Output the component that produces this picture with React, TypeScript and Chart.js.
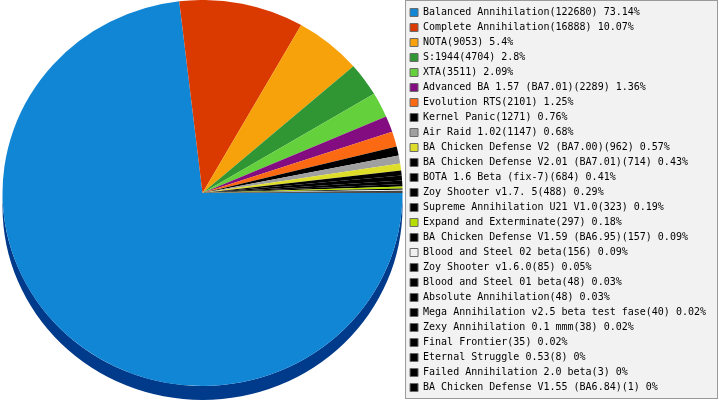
import React, { useEffect, useRef } from 'react';
import { Chart, registerables } from 'chart.js';

Chart.register(...registerables);

// games played per mod
const mods = [
  'Balanced Annihilation',
  'Complete Annihilation',
  'NOTA',
  'S:1944',
  'XTA',
  'Advanced BA 1.57 (BA7.01)',
  'Evolution RTS',
  'Kernel Panic',
  'Air Raid 1.02',
  'BA Chicken Defense V2 (BA7.00)',
  'BA Chicken Defense V2.01 (BA7.01)',
  'BOTA 1.6 Beta (fix-7)',
  'Zoy Shooter v1.7. 5',
  'Supreme Annihilation U21 V1.0',
  'Expand and Exterminate',
  'BA Chicken Defense V1.59 (BA6.95)',
  'Blood and Steel 02 beta',
  'Zoy Shooter v1.6.0',
  'Blood and Steel 01 beta',
  'Absolute Annihilation',
  'Mega Annihilation v2.5 beta test fase',
  'Zexy Annihilation 0.1 mmm',
  'Final Frontier',
  'Eternal Struggle 0.53',
  'Failed Annihilation 2.0 beta',
  'BA Chicken Defense V1.55 (BA6.84)',
];

const games = [
  122680, 16888, 9053, 4704, 3511, 2289, 2101, 1271, 1147, 962, 714, 684, 488,
  323, 297, 157, 156, 85, 48, 48, 40, 38, 35, 8, 3, 1,
];

const colors = [
  '#1186d5', '#da3a00', '#f8a20b', '#2f9633', '#64d03b', '#830c80', '#fc6913',
  '#000000', '#a0a0a0', '#dede2a', '#000000', '#000000', '#000000', '#000000',
  '#b5de00', '#000000', '#f0f0f0', '#000000', '#000000', '#000000', '#000000',
  '#000000', '#000000', '#000000', '#000000', '#000000',
];

const sideColors = [
  '#003a8b', '#7a2000', '#9a6200', '#175a1a', '#3a7f20', '#4a0648', '#9a3c08',
  '#000000', '#606060', '#8a8a10', '#000000', '#000000', '#000000', '#000000',
  '#6a8400', '#000000', '#a0a0a0', '#000000', '#000000', '#000000', '#000000',
  '#000000', '#000000', '#000000', '#000000', '#000000',
];

const total = games.reduce((a, b) => a + b, 0);

// fake 3d: flatten the pie a little and draw the lower rim
const pie3d = {
  id: 'pie3d',
  beforeDatasetsDraw(chart: any, _args: any, opts: any) {
    const arcs = chart.getDatasetMeta(0).data as any[];
    if (!arcs.length) return;
    const { x, y, outerRadius } = arcs[0].getProps(['x', 'y', 'outerRadius'], true);
    const ctx = chart.ctx as CanvasRenderingContext2D;
    const { tilt, depth } = opts;
    ctx.save();
    ctx.translate(x, y - depth / 2);
    ctx.scale(1, tilt);
    ctx.translate(-x, -y);
    const d = depth / tilt;
    arcs.forEach((arc, i) => {
      const { startAngle, endAngle } = arc.getProps(['startAngle', 'endAngle'], true);
      const s = Math.max(startAngle, 0);
      const e = Math.min(endAngle, Math.PI);
      if (e <= s) return;
      ctx.beginPath();
      ctx.arc(x, y, outerRadius, s, e);
      ctx.arc(x, y + d, outerRadius, e, s, true);
      ctx.closePath();
      ctx.fillStyle = sideColors[i];
      ctx.fill();
    });
  },
  afterDatasetsDraw(chart: any) {
    chart.ctx.restore();
  },
};

const legendBox = {
  id: 'legendBox',
  beforeDraw(chart: any) {
    const l = chart.legend;
    if (!l) return;
    const ctx = chart.ctx as CanvasRenderingContext2D;
    const w = chart.width - l.left - 2;
    const h = l.bottom - l.top - 2;
    ctx.save();
    ctx.fillStyle = '#f2f2f2';
    ctx.strokeStyle = '#9a9a9a';
    ctx.lineWidth = 1;
    ctx.fillRect(l.left + 0.5, l.top + 0.5, w, h);
    ctx.strokeRect(l.left + 0.5, l.top + 0.5, w, h);
    ctx.restore();
  },
};

const App: React.FC = () => {
  const chartRef = useRef<HTMLCanvasElement>(null);

  useEffect(() => {
    document.body.style.margin = '0';
    if (!chartRef.current) return;
    const chart = new Chart(chartRef.current, {
      type: 'pie',
      data: {
        labels: mods,
        datasets: [
          {
            data: games,
            backgroundColor: colors,
            borderWidth: 0,
            hoverOffset: 0,
          },
        ],
      },
      options: {
        responsive: false,
        animation: false,
        rotation: 90,
        layout: { padding: { right: 3 } },
        plugins: {
          tooltip: { enabled: false },
          legend: {
            position: 'right',
            labels: {
              boxWidth: 8,
              boxHeight: 8,
              padding: 5,
              color: '#000',
              font: { family: 'DejaVu Sans Mono', size: 10 },
              generateLabels: () =>
                mods.map((m, i) => ({
                  text: `${m}(${games[i]}) ${Math.round((games[i] / total) * 10000) / 100}%`,
                  fillStyle: colors[i],
                  strokeStyle: '#6a6a6a',
                  lineWidth: 1,
                  hidden: false,
                  index: i,
                })),
            },
          },
          pie3d: { tilt: 0.965, depth: 14 },
        } as any,
      },
      plugins: [pie3d, legendBox],
    });
    return () => {
      chart.destroy();
    };
  }, []);

  return (
    <div style={{ position: 'absolute', left: 0, top: 0 }}>
      <canvas ref={chartRef} width={719} height={400} />
    </div>
  );
};

export default App;
